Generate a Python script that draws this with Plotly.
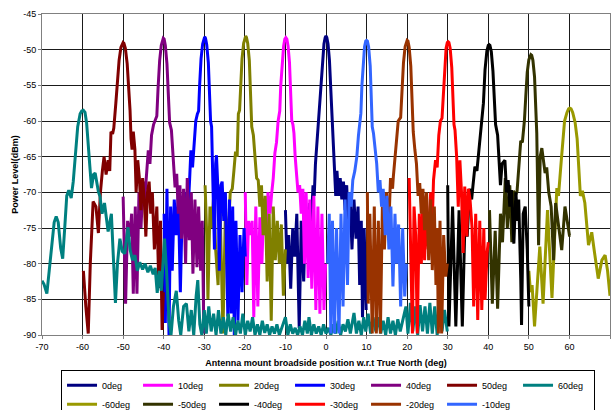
import plotly.graph_objects as go

# ---- series meta ----
names = ["0deg", "10deg", "20deg", "30deg", "40deg", "50deg", "60deg",
         "-60deg", "-50deg", "-40deg", "-30deg", "-20deg", "-10deg"]
colors = ["#000080", "#FF00FF", "#808000", "#0000FF", "#800080", "#800000", "#008080",
          "#999900", "#333300", "#000000", "#FF0000", "#993300", "#3366FF"]
# beam centre (deg) of each series; the 60deg series is listed in absolute positions
centers = [0.0, -9.9, -19.8, -29.9, -40.1, -50.0, 0.0,
           60.1, 50.5, 40.2, 30.1, 20.0, 10.0]

# ---- (offset from centre deg, power dBm) ----
s_0deg = [(-10.0,-72.5),(-9.6,-80),(-9.2,-76),(-8.7,-83.5),(-8.2,-75),(-7.7,-79),(-7.2,-73),(-6.6,-89),
          (-6.1,-74),(-5.5,-82.5),(-5.0,-72),(-4.5,-78.5),(-4.0,-71.5),(-3.6,-74),(-3.2,-69),(-2.9,-70.5),
          (-2.6,-66),(-2.3,-63.5),(-2.0,-60.5),(-1.7,-58.5),(-1.4,-57),(-1.15,-54),(-0.85,-51.3),(-0.5,-49.2),
          (-0.2,-48.3),(0.0,-48.1),(0.2,-48.3),(0.5,-49.2),(0.85,-51.5),(1.15,-55),(1.35,-58.5),(1.55,-59.5),
          (1.8,-62.5),(2.1,-67.5),(2.4,-70.5),(2.7,-67),(3.1,-70.5),(3.5,-68),(3.9,-71),(4.3,-68.5),(4.7,-72.5),
          (5.1,-69),(5.5,-75),(5.9,-70),(6.4,-78),(6.9,-71),(7.4,-76.5),(7.9,-72),(8.3,-83),(8.7,-74),(9.0,-87.5),
          (9.4,-75),(9.9,-86.5)]
s_10deg = [(-10.0,-70),(-9.6,-83),(-9.2,-74),(-8.7,-76),(-8.3,-74),(-7.9,-87.5),(-7.4,-72),(-6.9,-86),
           (-6.4,-73.5),(-5.9,-80),(-5.4,-71),(-4.9,-76),(-4.4,-70),(-3.9,-73),(-3.5,-70.2),(-3.1,-68),
           (-2.7,-64.5),(-2.3,-63),(-1.9,-60),(-1.5,-58.6),(-1.25,-55),(-0.9,-51.5),(-0.55,-49.5),(-0.25,-48.5),
           (0.0,-48.3),(0.25,-48.5),(0.55,-49.5),(0.9,-51.8),(1.2,-55.5),(1.45,-59.9),(1.75,-60.5),(2.0,-61.7),
           (2.3,-65),(2.6,-67.2),(3.0,-70),(3.4,-69),(3.8,-73),(4.2,-69.5),(4.6,-80),(5.0,-70),(5.5,-82),(5.9,-71),
           (6.4,-83.5),(6.9,-70.5),(7.4,-86.5),(7.9,-72),(8.4,-87),(8.9,-73),(9.4,-86.5),(9.8,-80)]
s_20deg = [(-10.0,-69),(-9.6,-76),(-9.3,-85),(-8.8,-72),(-8.4,-75),(-7.9,-70.6),(-7.4,-78),(-6.8,-83),
           (-6.3,-72),(-5.6,-89.8),(-5.0,-73),(-4.4,-77),(-3.8,-70),(-3.3,-69.5),(-2.9,-67),(-2.5,-64.3),
           (-2.1,-65),(-1.8,-59),(-1.5,-58.5),(-1.25,-55),(-0.9,-51.3),(-0.5,-49.1),(-0.2,-48.3),(0.0,-48.1),
           (0.2,-48.3),(0.5,-49.1),(0.9,-51.5),(1.25,-56),(1.5,-60.8),(1.9,-62),(2.3,-64.5),(2.7,-68),(3.1,-68.3),
           (3.5,-72),(3.9,-69),(4.3,-76),(4.8,-70.5),(5.3,-82.5),(5.8,-73),(6.3,-88),(6.8,-72),(7.3,-79.5),
           (7.8,-74),(8.3,-80),(8.8,-74.5),(9.3,-84.5),(9.8,-78)]
s_30deg = [(-10.0,-73),(-9.7,-88.3),(-9.3,-69.5),(-8.8,-90),(-8.4,-72),(-8.0,-81),(-7.5,-71),(-7.0,-76),
           (-6.5,-70.5),(-6.0,-84),(-5.5,-71.5),(-5.0,-75),(-4.5,-70),(-4.0,-71.5),(-3.7,-68),(-3.4,-64.1),
           (-3.0,-66.5),(-2.6,-63),(-2.2,-60),(-1.8,-59),(-1.5,-58.6),(-1.25,-55),(-0.9,-51.3),(-0.5,-49.2),
           (-0.2,-48.3),(0.0,-48.2),(0.2,-48.4),(0.5,-49.3),(0.9,-51.8),(1.2,-56),(1.45,-60),(1.7,-60.8),
           (2.1,-71),(2.4,-78),(2.7,-66),(2.9,-64.8),(3.3,-70),(3.6,-81),(4.0,-69),(4.3,-68.5),(4.7,-74),
           (5.1,-70),(5.7,-87.4),(6.1,-71),(6.5,-87),(6.9,-72),(7.3,-90),(7.7,-74),(8.2,-88),(8.7,-76),
           (9.2,-84),(9.7,-75),(10.0,-79)]
s_40deg = [(-9.9,-70.6),(-9.3,-85.6),(-8.8,-74),(-8.2,-76.2),(-7.8,-73),(-7.4,-84.2),(-6.9,-72),(-6.5,-84.2),
           (-6.0,-70),(-5.5,-75),(-5.0,-68.5),(-4.6,-71),(-4.2,-68),(-3.7,-64.1),(-3.3,-66),(-2.9,-62),
           (-2.4,-60.5),(-2.0,-59.9),(-1.6,-59.3),(-1.3,-55.5),(-0.9,-51.5),(-0.5,-49.4),(-0.2,-48.5),(0.0,-48.4),
           (0.2,-48.5),(0.5,-49.4),(0.9,-52),(1.25,-56.5),(1.55,-60.2),(2.0,-61.3),(2.5,-66),(2.9,-69.3),
           (3.3,-67.4),(3.7,-73),(4.1,-69),(4.5,-76.5),(5.0,-69.5),(5.5,-80),(5.9,-68),(6.4,-76.7),(6.9,-70),
           (7.3,-81.4),(7.8,-71),(8.3,-80.5),(8.7,-72),(9.2,-81),(9.6,-74),(10.0,-89.8)]
s_50deg = [(-9.8,-81),(-9.5,-84),(-9.2,-86),(-8.6,-89.8),(-8.1,-80),(-7.4,-71.3),(-6.7,-72),(-6.1,-75.7),
           (-5.6,-70),(-5.1,-66.9),(-4.7,-65),(-4.2,-67.5),(-3.7,-65.5),(-3.3,-67),(-3.0,-61.5),(-2.6,-61.8),
           (-2.3,-61),(-1.8,-57.5),(-1.4,-54),(-1.0,-51.5),(-0.55,-49.7),(-0.2,-49.05),(0.0,-49.0),(0.2,-49.1),
           (0.55,-49.8),(1.0,-52),(1.4,-55.5),(1.7,-58.5),(1.95,-62.5),(2.2,-64),(2.5,-61.5),(2.9,-64),(3.2,-70),
           (3.6,-65.5),(4.0,-68),(4.4,-72.5),(4.8,-68),(5.2,-71),(5.6,-76.2),(6.0,-70),(6.4,-68.5),(6.8,-73),
           (7.2,-70),(7.7,-78),(8.3,-72),(8.8,-83.4),(9.2,-74),(9.6,-89.3),(9.9,-84)]
s_60deg = [(-70.0,-82.4),(-69.5,-82.9),(-68.8,-84.2),(-68.2,-81.0),(-67.6,-77.8),(-67.0,-74.2),(-66.5,-73.4),
           (-66.0,-74.2),(-65.4,-77.8),(-64.9,-79.3),(-64.4,-75.0),(-63.9,-70.5),(-63.4,-69.7),(-62.8,-70.8),
           (-62.3,-68.5),(-61.9,-65.5),(-61.2,-60.8),(-60.6,-59.0),(-60.2,-58.6),(-59.8,-58.5),(-59.4,-58.8),
           (-59.0,-60.3),(-58.7,-62.2),(-58.2,-66.4),(-57.8,-69.4),(-57.3,-67.5),(-56.9,-67.3),(-56.4,-69.0),
           (-56.1,-69.9),(-55.7,-70.6),(-55.2,-73.0),(-54.6,-71.5),(-54.1,-73.9),(-53.7,-75.5),(-52.9,-73.0),
           (-52.4,-79.0),(-51.9,-85.5),(-51.4,-80.0),(-50.8,-76.5),(-50.2,-78.3),(-49.6,-78.6),(-48.8,-74.9),
           (-48.3,-78.0),(-47.7,-79.5),(-47.1,-78.8),(-46.5,-81.0),(-45.9,-79.8),(-45.2,-80.8),(-44.6,-80.0),
           (-43.9,-81.2),(-43.3,-80.3),(-42.6,-81.5),(-42.1,-80.6),(-41.6,-84.1),(-41.1,-81.0),(-40.6,-83.8),
           (-40.2,-80.5),(-39.8,-76.5),(-39.3,-81.0),(-38.7,-88.0),(-38.2,-90.0),(-37.6,-86.0),(-36.9,-83.8),
           (-36.3,-88.0),(-35.8,-90.0),(-35.1,-86.0),(-34.4,-85.6),(-33.8,-89.5),(-33.2,-86.5),(-32.6,-90.0),
           (-32.0,-84.5),(-31.6,-82.3),(-31.1,-88.5),(-30.6,-90.0),(-30.0,-86.5),(-29.5,-89.8),(-28.9,-86.0),
           (-28.3,-89.5),(-27.7,-87.0),(-27.1,-90.0),(-26.5,-86.5),(-25.9,-89.8),(-25.3,-87.5),(-24.7,-90.0),
           (-24.1,-87.0),(-23.5,-89.5),(-22.9,-87.5),(-22.3,-90.0),(-21.7,-88.0),(-21.1,-89.8),(-20.5,-87.0),
           (-19.9,-90.0),(-19.3,-88.0),(-18.7,-89.5),(-18.1,-87.5),(-17.5,-90.0),(-16.9,-88.5),(-16.3,-90.0),
           (-15.7,-88.0),(-15.1,-89.7),(-14.5,-88.5),(-13.9,-90.0),(-13.3,-88.8),(-12.7,-89.8),(-12.1,-88.5),
           (-11.5,-90.0),(-10.9,-89.0),(-10.0,-87.5),(-9.4,-90.0),(-8.8,-88.5),(-8.2,-89.8),(-7.6,-89.0),
           (-7.0,-90.0),(-6.4,-88.8),(-5.8,-90.0),(-5.2,-88.0),(-4.6,-89.8),(-4.2,-87.5),(-3.6,-90.0),
           (-3.0,-88.5),(-2.4,-89.8),(-1.8,-88.8),(-1.2,-90.0),(-0.6,-88.5),(0.0,-89.8),(0.6,-89.0),(1.2,-90.0),
           (1.8,-88.5),(2.4,-89.8),(3.0,-88.0),(3.6,-90.0),(4.2,-88.5),(4.8,-89.5),(5.4,-87.8),(6.0,-89.8),
           (6.9,-86.9),(7.5,-89.8),(8.1,-88.0),(8.7,-90.0),(9.3,-87.5),(9.8,-89.5),(10.4,-87.0),(11.0,-89.8),
           (11.6,-87.5),(12.3,-89.5),(12.9,-87.5),(13.5,-89.8),(14.1,-88.0),(14.7,-90.0),(15.3,-87.5),
           (15.9,-89.8),(16.5,-88.0),(17.1,-90.0),(17.7,-87.8),(18.3,-89.5),(18.9,-88.0),(19.7,-86.0),
           (20.2,-89.8),(20.8,-85.5),(21.4,-89.5),(22.0,-86.0),(22.6,-90.0),(23.2,-85.8),(23.8,-89.5),
           (24.4,-86.0),(25.0,-89.8),(25.6,-85.5),(26.2,-89.8),(26.8,-86.0),(27.4,-90.0),(28.0,-85.5),
           (28.6,-89.5),(29.2,-86.5),(29.9,-89.5)]
s_m60deg = [(-10.1,-81),(-9.7,-84),(-9.3,-83),(-8.7,-88.8),(-7.4,-77.6),(-6.6,-85.6),(-5.5,-72.5),(-4.4,-84.8),
            (-3.2,-69.4),(-2.8,-70.5),(-2.1,-65.5),(-1.7,-62.5),(-1.3,-60),(-0.7,-58.8),(-0.3,-58.3),(0.0,-58.2),
            (0.3,-58.3),(0.7,-58.8),(1.3,-60.2),(1.8,-62.5),(2.2,-66.5),(2.6,-70.5),(3.1,-69.8),(3.7,-71.5),
            (4.6,-77.4),(5.4,-75.6),(6.1,-78.5),(7.0,-82.1),(7.9,-79.5),(8.7,-78.8),(9.3,-81),(9.9,-84.5)]
s_m50deg = [(-10.2,-72.5),(-9.5,-85.6),(-8.8,-75.4),(-8.2,-86.3),(-7.5,-73),(-7.0,-77),(-6.3,-68),(-5.8,-75),
            (-5.2,-69),(-4.7,-77),(-4.3,-69.8),(-3.8,-70.5),(-3.4,-69.8),(-2.9,-65),(-2.5,-62.8),(-2.1,-63),
            (-1.6,-60),(-1.25,-56.5),(-0.9,-53.2),(-0.5,-51.4),(-0.2,-50.8),(0.0,-50.7),(0.2,-50.8),(0.5,-51.5),
            (0.9,-53.8),(1.2,-57.5),(1.45,-61.7),(1.9,-77.4),(2.3,-65),(2.7,-63.8),(3.1,-66),(3.5,-67.3),
            (3.9,-66.5),(4.4,-70),(5.0,-72),(5.6,-79.5),(6.1,-71.5),(6.8,-75),(7.6,-78.1),(8.4,-72),(9.0,-74),
            (9.5,-76),(9.8,-76)]
s_m40deg = [(-10.2,-69),(-9.9,-88.8),(-9.0,-72),(-8.2,-88.8),(-7.4,-72.5),(-6.6,-88.8),(-5.9,-73),(-5.4,-76.2),
            (-4.8,-69.5),(-4.3,-71),(-4.0,-69.2),(-3.5,-66.4),(-3.0,-67),(-2.5,-64),(-2.0,-61),(-1.8,-60.6),
            (-1.4,-57.5),(-1.0,-52.8),(-0.55,-50.2),(-0.2,-49.4),(0.0,-49.3),(0.2,-49.4),(0.55,-50.3),(0.95,-53),
            (1.3,-57),(1.6,-60.5),(2.1,-62),(2.5,-66),(2.8,-69),(3.2,-66),(3.9,-65.5),(4.3,-70),(4.7,-68.3),
            (5.1,-72),(5.5,-69.7),(6.1,-77.2),(6.6,-70),(7.0,-74),(7.3,-71),(7.8,-82),(8.0,-88.6),(8.4,-73),
            (8.9,-72),(9.4,-78),(9.8,-86)]
s_m30deg = [(-9.6,-68),(-9.2,-80),(-8.8,-89.8),(-8.4,-72),(-8.0,-76),(-7.6,-89.8),(-7.1,-73),(-6.6,-80),
            (-6.2,-70.5),(-5.8,-79.5),(-5.4,-72),(-4.9,-78),(-4.3,-70),(-3.9,-74),(-3.6,-68.3),(-3.1,-65.5),
            (-2.7,-66.5),(-2.3,-62),(-1.9,-60),(-1.5,-59.6),(-1.2,-56),(-0.85,-51.9),(-0.5,-49.8),(-0.2,-49.0),
            (0.0,-48.9),(0.2,-49.0),(0.5,-49.8),(0.9,-52.5),(1.2,-57),(1.45,-60.5),(1.7,-61.3),(2.1,-65),
            (2.5,-72),(2.9,-65.5),(3.3,-70),(3.7,-78.5),(4.1,-69.2),(4.6,-76.2),(5.0,-69.5),(5.4,-71),(5.9,-75),
            (6.3,-86),(6.8,-73),(7.3,-87.9),(7.8,-74),(8.3,-86.5),(8.8,-75),(9.1,-85.1),(9.6,-78.5),(9.9,-77)]
s_m20deg = [(-9.8,-70),(-9.6,-85.6),(-9.2,-73),(-8.6,-89.8),(-8.1,-72),(-7.6,-89.8),(-7.1,-74),(-6.6,-89.8),
            (-6.1,-72),(-5.6,-78),(-5.1,-70),(-4.6,-76),(-4.1,-68),(-3.6,-69.5),(-3.4,-67.8),(-3.0,-65),
            (-2.6,-62.5),(-2.2,-60),(-1.6,-59.5),(-1.3,-56),(-0.9,-51.8),(-0.5,-49.6),(-0.2,-48.8),(0.0,-48.7),
            (0.2,-48.8),(0.5,-49.7),(0.9,-52.3),(1.25,-56.5),(1.5,-61.5),(1.9,-64),(2.3,-66),(2.7,-70.5),
            (3.1,-68.7),(3.5,-73),(3.9,-69.5),(4.3,-75.3),(4.8,-70),(5.3,-79.5),(5.8,-71),(6.2,-80.9),(6.7,-72),
            (7.1,-83),(7.4,-75),(7.7,-89.8),(8.1,-74),(8.5,-89.8),(9.0,-76),(9.5,-81.8),(9.9,-80)]
s_m10deg = [(-9.6,-80),(-9.2,-73),(-8.8,-89.8),(-8.4,-74),(-7.9,-89.8),(-7.4,-75),(-6.8,-89.8),(-6.3,-73),
            (-5.8,-86),(-5.3,-71),(-4.7,-83),(-4.3,-70),(-3.8,-72),(-3.4,-68.3),(-2.9,-67),(-2.4,-65),(-2.0,-62),
            (-1.6,-59.4),(-1.4,-58.9),(-1.15,-55),(-0.85,-51.8),(-0.5,-49.6),(-0.2,-48.8),(0.0,-48.7),(0.2,-48.8),
            (0.5,-49.6),(0.9,-52.3),(1.2,-57),(1.4,-60.8),(1.7,-61.7),(2.1,-64),(2.5,-66),(2.9,-70),(3.3,-68.3),
            (3.7,-72),(4.1,-69.5),(4.6,-76),(5.0,-70.5),(5.5,-78),(6.0,-72),(6.5,-83.2),(7.0,-73),(7.4,-80),
            (7.9,-74.5),(8.4,-86),(8.9,-75),(9.4,-84.6),(9.8,-80)]

series = [s_0deg, s_10deg, s_20deg, s_30deg, s_40deg, s_50deg, s_60deg,
          s_m60deg, s_m50deg, s_m40deg, s_m30deg, s_m20deg, s_m10deg]

x_ticks = list(range(-70, 71, 10))
y_ticks = list(range(-90, -44, 5))

FONT = "Arial, Liberation Sans, sans-serif"

fig = go.Figure()
for name, col, c, pts in zip(names, colors, centers, series):
    fig.add_trace(go.Scatter(
        x=[c + p[0] for p in pts], y=[p[1] for p in pts],
        mode="lines", name=name,
        line=dict(color=col, width=3),
    ))

fig.update_layout(
    width=611, height=410,
    margin=dict(l=42, r=1, t=14, b=75, autoexpand=False),
    paper_bgcolor="white", plot_bgcolor="white",
    font=dict(family=FONT, size=9, color="black"),
    showlegend=True,
    legend=dict(orientation="h", x=0.0335, y=-0.108, xanchor="left", yanchor="top",
                entrywidth=31, entrywidthmode="pixels",
                bordercolor="black", borderwidth=1, bgcolor="white",
                font=dict(family=FONT, size=9), itemwidth=30, tracegroupgap=0),
)
fig.update_xaxes(range=[-70, 70], tickvals=x_ticks, ticktext=[str(v) for v in x_ticks],
                 automargin=False,
                 showgrid=True, gridcolor="#1a1a1a", gridwidth=1, zeroline=False,
                 showline=True, linecolor="#808080", linewidth=1, mirror=True,
                 ticks="outside", ticklen=3, tickcolor="#808080",
                 tickfont=dict(family=FONT, size=9),
                 title=dict(text="Antenna mount broadside position w.r.t True North (deg)",
                            font=dict(family=FONT, size=9, weight="bold"), standoff=8))
fig.update_yaxes(range=[-90, -45], tickvals=y_ticks, ticktext=[str(v) for v in y_ticks],
                 automargin=False,
                 showgrid=True, gridcolor="#1a1a1a", gridwidth=1, zeroline=False,
                 showline=True, linecolor="#808080", linewidth=1, mirror=True,
                 ticks="outside", ticklen=3, tickcolor="#808080",
                 tickfont=dict(family=FONT, size=9),
                 title=dict(text="Power Level(dBm)",
                            font=dict(family=FONT, size=9, weight="bold"), standoff=3))

fig.write_html("out.html", config={"displayModeBar": False},
               post_script="document.body.style.margin='0';")
